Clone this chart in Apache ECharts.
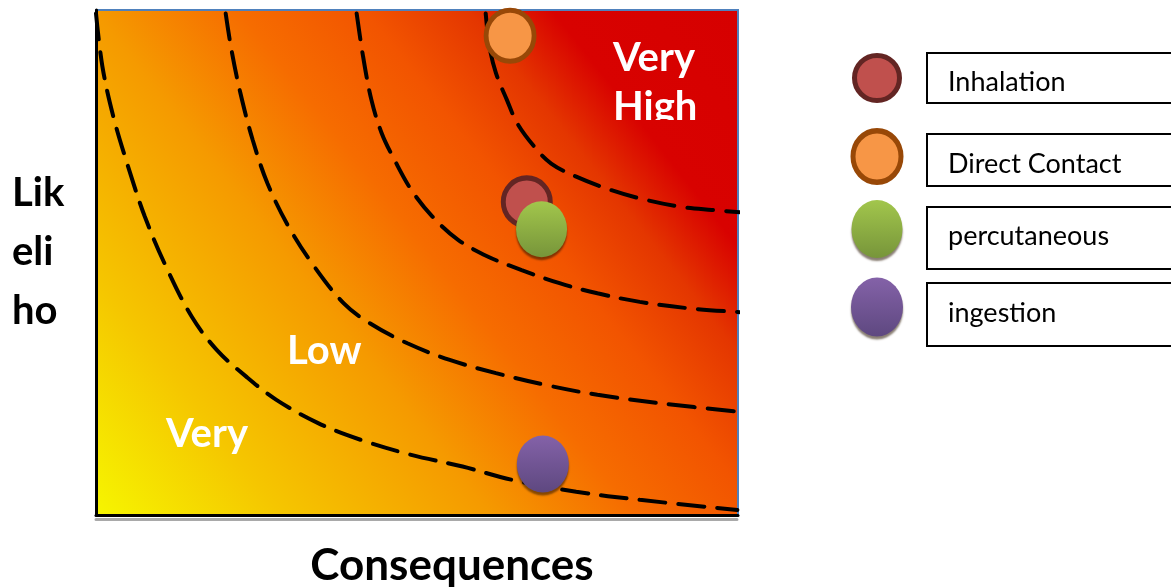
<!DOCTYPE html>
<html>
<head>
<meta charset="utf-8">
<script src="https://cdn.jsdelivr.net/npm/echarts@6/dist/echarts.min.js"></script>
<style>
  html, body { margin: 0; padding: 0; background: #fff; }
  #chart { width: 1171px; height: 588px; }
</style>
</head>
<body>
<div id="chart"></div>
<script>
// Exposure routes plotted on the risk matrix
const routes = ['Inhalation', 'Direct Contact', 'percutaneous', 'ingestion'];
const consequence = [6.71, 6.45, 6.94, 6.96];
const likelihood = [6.20, 9.49, 5.66, 1.01];

// Dashed iso-risk boundaries, [consequence, likelihood]
const boundaryVeryLowLow = [
  [0.00, 9.93], [0.10, 8.88], [0.27, 7.89], [0.50, 6.90], [0.76, 5.91], [1.09, 4.92],
  [1.49, 3.93], [1.88, 3.27], [2.34, 2.74], [2.81, 2.28], [3.46, 1.82], [4.12, 1.49],
  [4.91, 1.19], [5.71, 0.96], [6.50, 0.69], [7.48, 0.46], [8.47, 0.30], [9.99, 0.10]
];
const boundaryLowMedium = [
  [2.02, 9.93], [2.11, 9.21], [2.25, 8.35], [2.44, 7.43], [2.67, 6.57], [3.00, 5.71],
  [3.40, 4.92], [3.86, 4.19], [4.26, 3.80], [4.85, 3.40], [5.51, 3.07], [6.23, 2.81],
  [7.02, 2.57], [7.81, 2.38], [8.80, 2.21], [10.12, 2.03]
];
const boundaryMediumHigh = [
  [4.06, 9.93], [4.16, 9.08], [4.29, 8.22], [4.45, 7.56], [4.65, 7.03], [4.91, 6.44],
  [5.24, 5.91], [5.64, 5.45], [6.10, 5.12], [6.63, 4.85], [7.22, 4.59], [7.81, 4.39],
  [8.47, 4.22], [9.26, 4.09], [10.12, 4.01]
];
const boundaryHighVeryHigh = [
  [6.07, 9.93], [6.13, 9.27], [6.23, 8.75], [6.40, 8.22], [6.56, 7.76], [6.83, 7.29],
  [7.09, 6.96], [7.48, 6.70], [8.01, 6.44], [8.47, 6.27], [9.07, 6.11], [9.59, 6.04],
  [10.09, 5.99]
];
const boundaries = [boundaryVeryLowLow, boundaryLowMedium, boundaryMediumHigh, boundaryHighVeryHigh];

// Zone captions and axis titles
const topZoneLabel = ['Very', 'High'];
const midZoneLabel = 'Low';
const lowZoneLabel = 'Very';
const xTitle = 'Consequences';
const yTitleLines = ['Lik', 'eli', 'ho'];

// ---- styling ----
const ellipsePath = 'path://M0,50A50,50,0,1,1,100,50A50,50,0,1,1,0,50Z';
const vgrad = (top, bottom) => ({
  type: 'linear', x: 0, y: 0, x2: 0, y2: 1,
  colorStops: [{ offset: 0, color: top }, { offset: 1, color: bottom }]
});
const routeStyle = [
  { fill: '#c0504d', stroke: '#632523', lw: 5, size: [47, 48], shadow: false },
  { fill: '#f79646', stroke: '#984807', lw: 5, size: [48, 51], shadow: false },
  { fill: vgrad('#a2c64c', '#77953a'), stroke: null, lw: 0, size: [51, 56], shadow: true },
  { fill: vgrad('#8462a8', '#5e4880'), stroke: null, lw: 0, size: [52, 57], shadow: true }
];
// legend layout (pixels)
const legendRows = [
  { cy: 78, rx: 25, ry: 25, boxTop: 53, boxH: 50, textY: 82 },
  { cy: 156.5, rx: 26.5, ry: 28.5, boxTop: 134, boxH: 52, textY: 164 },
  { cy: 229, rx: 25.5, ry: 29, boxTop: 207, boxH: 62, textY: 236 },
  { cy: 307, rx: 26, ry: 29.5, boxTop: 283, boxH: 63, textY: 313 }
];

const chart = echarts.init(document.getElementById('chart'));

const series = [];
boundaries.forEach((pts, i) => {
  series.push({
    type: 'line',
    name: 'boundary' + i,
    data: pts,
    smooth: 0.35,
    showSymbol: false,
    silent: true,
    clip: false,
    z: 2,
    lineStyle: { color: '#000', width: 4, type: [26, 13], cap: 'round' }
  });
});
routes.forEach((name, i) => {
  const st = routeStyle[i];
  series.push({
    type: 'scatter',
    name: name,
    data: [[consequence[i], likelihood[i]]],
    symbol: ellipsePath,
    symbolSize: st.size,
    clip: false,
    silent: true,
    z: 3 + i,
    itemStyle: Object.assign(
      { color: st.fill, opacity: 1 },
      st.stroke ? { borderColor: st.stroke, borderWidth: st.lw } : {},
      st.shadow ? { shadowColor: 'rgba(40,20,0,0.55)', shadowBlur: 2, shadowOffsetY: 3 } : {}
    )
  });
});

const boldFont = 'bold 40px Lato';

// "Very High" caption lives in its own small text frame, which cuts it off at the bottom
series.push({
  type: 'custom',
  name: 'topZone',
  xAxisIndex: 2, yAxisIndex: 1,
  clip: true,
  silent: true,
  z: 10,
  data: [[0, 1]],
  renderItem: function (params, api) {
    const p = api.coord([api.value(0), api.value(1)]);
    return {
      type: 'group',
      children: topZoneLabel.map((t, i) => ({
        type: 'text',
        x: p[0] + 13, y: p[1] + 48 + i * 49,
        style: { text: t, font: boldFont, fill: '#fff', verticalAlign: 'middle', align: 'left' }
      }))
    };
  }
});

// legend drawn as circle + boxed caption rows
const legendEls = [];
routes.forEach((name, i) => {
  const st = routeStyle[i], row = legendRows[i];
  legendEls.push({
    type: 'circle',
    x: 877, y: row.cy,
    scaleY: row.ry / row.rx,
    shape: { cx: 0, cy: 0, r: row.rx - st.lw / 2 },
    style: Object.assign(
      { fill: st.fill },
      st.stroke ? { stroke: st.stroke, lineWidth: st.lw } : {},
      st.shadow ? { shadowColor: 'rgba(40,20,0,0.55)', shadowBlur: 2, shadowOffsetY: 3 } : {}
    )
  });
  legendEls.push({
    type: 'rect',
    shape: { x: 927, y: row.boxTop, width: 280, height: row.boxH },
    style: { fill: '#fff', stroke: '#000', lineWidth: 2 }
  });
  legendEls.push({
    type: 'text',
    x: 948, y: row.textY,
    style: { text: name, font: '27px Lato', fill: '#000', verticalAlign: 'middle', align: 'left' }
  });
});

const textEls = [
  { type: 'text', x: 287, y: 351, z: 10,
    style: { text: midZoneLabel, font: boldFont, fill: '#fff', verticalAlign: 'middle', align: 'left' } },
  { type: 'text', x: 166, y: 434, z: 10,
    style: { text: lowZoneLabel, font: boldFont, fill: '#fff', verticalAlign: 'middle', align: 'left' } },
  { type: 'text', x: 452, y: 566,
    style: { text: xTitle, font: 'bold 44px Lato', fill: '#000', verticalAlign: 'middle', align: 'center' } }
];
yTitleLines.forEach((t, i) => {
  textEls.push({
    type: 'text', x: 12, y: 193 + i * 59,
    style: { text: t, font: boldFont, fill: '#000', verticalAlign: 'middle', align: 'left' }
  });
});

const hiddenAxis = {
  type: 'value', min: 0, max: 1, show: false,
  axisLine: { show: false }, axisTick: { show: false }, axisLabel: { show: false }, splitLine: { show: false }
};

chart.setOption({
  animation: false,
  backgroundColor: '#fff',
  grid: [
    {
      left: 96, top: 10, width: 642, height: 505,
      show: true,
      borderColor: '#4f81bd', borderWidth: 2,
      backgroundColor: {
        type: 'linear', x: 0, y: 1, x2: 1, y2: 0,
        colorStops: [
          { offset: 0, color: '#f6f600' },
          { offset: 0.18, color: '#f5c600' },
          { offset: 0.38, color: '#f59a00' },
          { offset: 0.52, color: '#f66c00' },
          { offset: 0.64, color: '#f25400' },
          { offset: 0.74, color: '#e43600' },
          { offset: 0.82, color: '#d80200' },
          { offset: 1, color: '#d60000' }
        ]
      }
    },
    { left: 600, top: 10, width: 138, height: 110, show: false }
  ],
  xAxis: [
    {
      type: 'value', min: 0, max: 10,
      axisLine: { show: true, onZero: false, lineStyle: { color: '#000', width: 3 } },
      axisTick: { show: false }, axisLabel: { show: false }, splitLine: { show: false }
    },
    {
      type: 'value', min: 0, max: 10, position: 'bottom', offset: 4,
      axisLine: { show: true, onZero: false, lineStyle: { color: '#a9a9a9', width: 3, type: [2, 1] } },
      axisTick: { show: false }, axisLabel: { show: false }, splitLine: { show: false }
    },
    Object.assign({ gridIndex: 1 }, hiddenAxis)
  ],
  yAxis: [
    {
      type: 'value', min: 0, max: 10,
      axisLine: { show: true, onZero: false, lineStyle: { color: '#000', width: 3 } },
      axisTick: { show: false }, axisLabel: { show: false }, splitLine: { show: false }
    },
    Object.assign({ gridIndex: 1 }, hiddenAxis)
  ],
  series: series,
  graphic: { elements: legendEls.concat(textEls) }
});
</script>
</body>
</html>
